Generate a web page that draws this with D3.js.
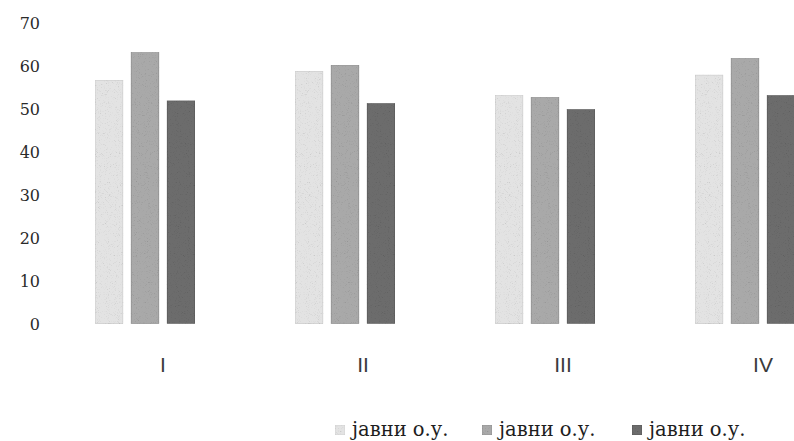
<!DOCTYPE html>
<html>
<head>
<meta charset="utf-8">
<script src="https://cdn.jsdelivr.net/npm/d3@7/dist/d3.min.js"></script>
<style>
  html, body { margin: 0; padding: 0; background: #fff; }
  svg { display: block; }
</style>
</head>
<body>
<div id="chart"></div>
<script>
// Categories (groups) along the x axis
const categories = ["I", "II", "III", "IV"];

// Series names shown in the legend
const seriesNames = ["јавни о.у.", "јавни о.у.", "јавни о.у."];

// Values per series, one per category
const series1 = [56.5, 58.6, 53.1, 57.8];
const series2 = [63.0, 60.1, 52.6, 61.7];
const series3 = [51.8, 51.2, 49.8, 53.1];

// Y axis tick values
const yTicks = [0, 10, 20, 30, 40, 50, 60, 70];

const seriesValues = [series1, series2, series3];
const seriesColors = ["#e3e3e3", "#a9a9a9", "#6c6c6c"];
const seriesStroke = ["#c8c8c8", "#858585", "#525252"];

const W = 794, H = 441;

const svg = d3.select("#chart").append("svg")
  .attr("width", W).attr("height", H)
  .style("background", "#fff");

// Grainy print texture for the bars and legend keys
const defs = svg.append("defs");
const grain = defs.append("filter").attr("id", "grain")
  .attr("x", 0).attr("y", 0).attr("width", "100%").attr("height", "100%");
grain.append("feTurbulence").attr("type", "fractalNoise")
  .attr("baseFrequency", 1.1).attr("numOctaves", 2).attr("seed", 7).attr("result", "noise");
grain.append("feColorMatrix").attr("in", "noise").attr("type", "matrix")
  .attr("values", "0.33 0.33 0.33 0 0  0.33 0.33 0.33 0 0  0.33 0.33 0.33 0 0  0 0 0 0 1")
  .attr("result", "gray");
const ct = grain.append("feComponentTransfer").attr("in", "gray").attr("result", "grayAdj");
["feFuncR", "feFuncG", "feFuncB"].forEach(f =>
  ct.append(f).attr("type", "linear").attr("slope", 1.2).attr("intercept", 0.45));
grain.append("feBlend").attr("in", "SourceGraphic").attr("in2", "grayAdj")
  .attr("mode", "multiply").attr("result", "blend");
grain.append("feComposite").attr("in", "blend").attr("in2", "SourceGraphic")
  .attr("operator", "in");

// Scales
const x = d3.scaleBand().domain(categories).range([63, 863]).padding(0);
const xSub = d3.scaleBand().domain(d3.range(seriesValues.length))
  .range([32, 132]).paddingInner(0.222).paddingOuter(0);
const y = d3.scaleLinear().domain([0, 70]).range([323.5, 22.5]);

// Y axis labels (no axis line or gridlines)
const yAxis = d3.axisLeft(y).tickValues(yTicks).tickSize(0).tickPadding(0);
const yG = svg.append("g").attr("transform", "translate(40,1)").call(yAxis);
yG.select(".domain").remove();
yG.selectAll("text")
  .attr("font-family", "'DejaVu Serif', 'Liberation Serif', serif")
  .attr("font-size", 16)
  .attr("fill", "#2a2a2a");

// Bars
const groups = svg.append("g").selectAll("g")
  .data(categories)
  .join("g")
  .attr("transform", d => `translate(${x(d)},0)`);

groups.selectAll("rect")
  .data((c, ci) => seriesValues.map((vals, si) => ({ si, v: vals[ci] })))
  .join("rect")
  .attr("x", d => xSub(d.si))
  .attr("width", xSub.bandwidth())
  .attr("y", d => y(d.v))
  .attr("height", d => y(0) - y(d.v))
  .attr("fill", d => seriesColors[d.si])
  .attr("stroke", d => seriesStroke[d.si])
  .attr("stroke-width", 0.8)
  .attr("filter", "url(#grain)");

// Category labels
const xAxis = d3.axisBottom(x).tickSize(0).tickPadding(0);
const xG = svg.append("g").attr("transform", "translate(0,357)").call(xAxis);
xG.select(".domain").remove();
xG.selectAll("text")
  .attr("font-family", "'Liberation Sans Narrow', 'Liberation Sans', Arial, sans-serif")
  .attr("font-size", 21)
  .attr("fill", "#3a3a3a");

// Legend
const legendX = [335, 482, 632];
const legend = svg.append("g").selectAll("g")
  .data(seriesNames)
  .join("g")
  .attr("transform", (d, i) => `translate(${legendX[i]},425)`);
legend.append("rect")
  .attr("x", 0).attr("y", 0)
  .attr("width", 10).attr("height", 10)
  .attr("fill", (d, i) => seriesColors[i])
  .attr("stroke", (d, i) => seriesStroke[i])
  .attr("stroke-width", 0.6)
  .attr("filter", "url(#grain)");
legend.append("text")
  .attr("x", 17).attr("y", 11)
  .attr("font-family", "'DejaVu Serif', 'Liberation Serif', serif")
  .attr("font-size", 19.5)
  .attr("fill", "#1e1e1e")
  .text(d => d);
</script>
</body>
</html>
